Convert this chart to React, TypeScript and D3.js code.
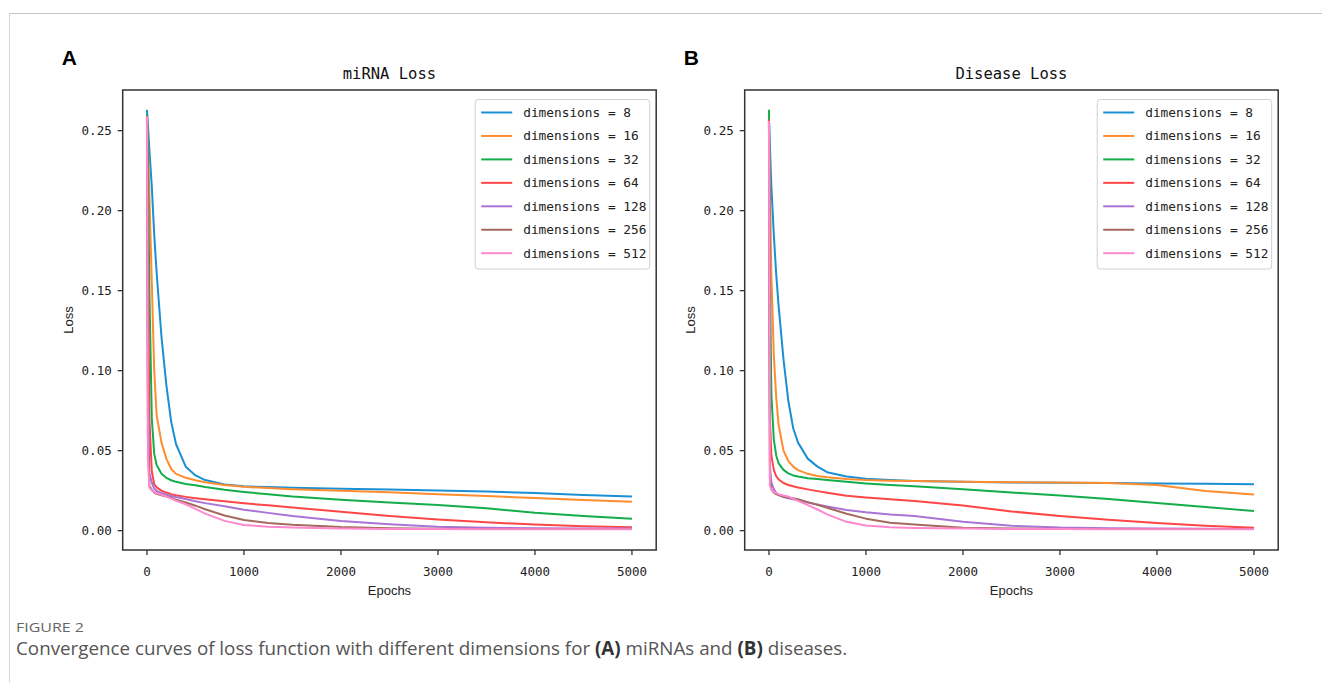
import React from "react";
import * as d3 from "d3";

const epochs = [0, 10, 25, 50, 75, 100, 150, 200, 250, 300, 400, 500, 600, 800, 1000, 1250, 1500, 2000, 2500, 3000, 3500, 4000, 4500, 5000];
const dimensions = [8, 16, 32, 64, 128, 256, 512];
const colors = ["#1b8fd4", "#ff8d2e", "#14ad4b", "#ff4646", "#a974d6", "#a56a5e", "#ff88cf"];
const xTicks = [0, 1000, 2000, 3000, 4000, 5000];
const yTicks = [0, 0.05, 0.1, 0.15, 0.2, 0.25];

// Panel A: miRNA loss
const mirnaD8 = [0.263, 0.254, 0.238, 0.215, 0.185, 0.161, 0.121, 0.091, 0.068, 0.054, 0.040, 0.0345, 0.0316, 0.0288, 0.0277, 0.0272, 0.0268, 0.0262, 0.0257, 0.0251, 0.0244, 0.0235, 0.0223, 0.0213];
const mirnaD16 = [0.259, 0.24, 0.21, 0.155, 0.1, 0.072, 0.055, 0.045, 0.0385, 0.0355, 0.033, 0.0315, 0.0302, 0.0285, 0.0274, 0.0266, 0.0259, 0.025, 0.024, 0.0228, 0.0216, 0.0204, 0.0192, 0.0181];
const mirnaD32 = [0.26, 0.235, 0.15, 0.07, 0.048, 0.041, 0.0355, 0.033, 0.0315, 0.0305, 0.0292, 0.0283, 0.0273, 0.0256, 0.0242, 0.0227, 0.0213, 0.0193, 0.0176, 0.016, 0.014, 0.0112, 0.0092, 0.0075];
const mirnaD64 = [0.258, 0.18, 0.07, 0.037, 0.029, 0.027, 0.025, 0.0238, 0.0228, 0.0221, 0.0211, 0.0203, 0.0196, 0.0184, 0.0171, 0.0158, 0.0145, 0.0118, 0.0091, 0.0069, 0.0052, 0.0038, 0.0028, 0.0021];
const mirnaD128 = [0.258, 0.09, 0.036, 0.03, 0.0263, 0.0248, 0.0235, 0.0224, 0.0217, 0.021, 0.0198, 0.0184, 0.0172, 0.0152, 0.0131, 0.0111, 0.0091, 0.006, 0.004, 0.0025, 0.0018, 0.0015, 0.0014, 0.0013];
const mirnaD256 = [0.259, 0.06, 0.028, 0.0255, 0.0238, 0.023, 0.0221, 0.0213, 0.0205, 0.0194, 0.0176, 0.0156, 0.0134, 0.0095, 0.0066, 0.0048, 0.0037, 0.0022, 0.0015, 0.0012, 0.0011, 0.001, 0.001, 0.001];
const mirnaD512 = [0.259, 0.045, 0.027, 0.0252, 0.0242, 0.0235, 0.0224, 0.0214, 0.02, 0.0187, 0.0165, 0.0136, 0.0106, 0.0061, 0.0035, 0.0025, 0.002, 0.0014, 0.0011, 0.001, 0.0009, 0.0009, 0.0008, 0.0008];

// Panel B: disease loss
const diseaseD8 = [0.258, 0.24, 0.215, 0.185, 0.16, 0.14, 0.107, 0.081, 0.064, 0.055, 0.045, 0.04, 0.0365, 0.0338, 0.0325, 0.0317, 0.0311, 0.0305, 0.0301, 0.0299, 0.0297, 0.0295, 0.0293, 0.029];
const diseaseD16 = [0.258, 0.215, 0.16, 0.11, 0.083, 0.066, 0.05, 0.0435, 0.04, 0.0378, 0.0355, 0.0342, 0.0333, 0.0322, 0.0316, 0.0312, 0.031, 0.0305, 0.0303, 0.0301, 0.0298, 0.0285, 0.0248, 0.0226];
const diseaseD32 = [0.263, 0.16, 0.085, 0.057, 0.047, 0.042, 0.038, 0.0358, 0.0345, 0.0338, 0.0328, 0.0322, 0.0317, 0.0305, 0.0295, 0.0285, 0.0277, 0.0258, 0.0238, 0.022, 0.0198, 0.0172, 0.0148, 0.0122];
const diseaseD64 = [0.257, 0.07, 0.047, 0.038, 0.034, 0.032, 0.0298, 0.0285, 0.0277, 0.027, 0.0258, 0.0247, 0.0237, 0.0218, 0.0207, 0.0196, 0.0186, 0.0157, 0.012, 0.0091, 0.0068, 0.0048, 0.003, 0.0018];
const diseaseD128 = [0.256, 0.04, 0.03, 0.026, 0.0235, 0.0222, 0.021, 0.0202, 0.0196, 0.0189, 0.0176, 0.0163, 0.0151, 0.0129, 0.0115, 0.0101, 0.0091, 0.0056, 0.003, 0.0019, 0.0015, 0.0013, 0.0012, 0.0011];
const diseaseD256 = [0.256, 0.032, 0.0258, 0.0238, 0.0228, 0.0222, 0.0213, 0.0207, 0.0203, 0.0196, 0.0178, 0.0161, 0.0143, 0.0106, 0.0075, 0.005, 0.0038, 0.0018, 0.0013, 0.0011, 0.001, 0.001, 0.001, 0.001];
const diseaseD512 = [0.256, 0.028, 0.0258, 0.0243, 0.0235, 0.0228, 0.022, 0.0213, 0.02, 0.0186, 0.016, 0.0132, 0.0102, 0.0055, 0.0032, 0.0021, 0.0017, 0.0013, 0.0011, 0.001, 0.0009, 0.0009, 0.0008, 0.0008];

const mirnaSeries = [mirnaD8, mirnaD16, mirnaD32, mirnaD64, mirnaD128, mirnaD256, mirnaD512];
const diseaseSeries = [diseaseD8, diseaseD16, diseaseD32, diseaseD64, diseaseD128, diseaseD256, diseaseD512];

const MONO = "'DejaVu Sans Mono', monospace";
const SANS = "'Liberation Sans', Arial, sans-serif";

type PanelProps = { left: number; letter: string; title: string; series: number[][] };

function Panel({ left, letter, title, series }: PanelProps) {
  const width = 533.5;
  const top = 90;
  const bottom = 550;
  const right = left + width;
  const x = d3.scaleLinear().domain([-250, 5250]).range([left, right]);
  const y = d3.scaleLinear().domain([-0.0121, 0.2754]).range([bottom, top]);
  const line = d3
    .line<number>()
    .x((_, i) => x(epochs[i]))
    .y((d) => y(d));
  const cx = (left + right) / 2;
  const legX = right - 181;
  const legY = 99.5;
  const rowH = 23.45;
  return (
    <g>
      <text x={left - 61} y={65} fontFamily={SANS} fontWeight="bold" fontSize={21} fill="#000">
        {letter}
      </text>
      <text x={cx} y={79} textAnchor="middle" fontFamily={MONO} fontSize={15.5} fill="#111">
        {title}
      </text>
      {series.map((s, i) => (
        <path key={i} d={line(s) || ""} fill="none" stroke={colors[i]} strokeWidth={2} strokeLinejoin="round" />
      ))}
      <rect x={left} y={top} width={width} height={bottom - top} fill="none" stroke="#333" strokeWidth={1.5} />
      {xTicks.map((t) => (
        <g key={"x" + t}>
          <line x1={x(t)} x2={x(t)} y1={bottom} y2={bottom + 5} stroke="#333" strokeWidth={1.3} />
          <text x={x(t)} y={bottom + 26} textAnchor="middle" fontFamily={MONO} fontSize={12.5} fill="#222">
            {String(t)}
          </text>
        </g>
      ))}
      {yTicks.map((t) => (
        <g key={"y" + t}>
          <line x1={left - 5} x2={left} y1={y(t)} y2={y(t)} stroke="#333" strokeWidth={1.3} />
          <text x={left - 11} y={y(t) + 4.5} textAnchor="end" fontFamily={MONO} fontSize={12.5} fill="#222">
            {t.toFixed(2)}
          </text>
        </g>
      ))}
      <text x={cx} y={595} textAnchor="middle" fontFamily={SANS} fontSize={13} fill="#222">
        Epochs
      </text>
      <text
        transform={`translate(${left - 50},${(top + bottom) / 2}) rotate(-90)`}
        textAnchor="middle"
        fontFamily={SANS}
        fontSize={13}
        fill="#222"
      >
        Loss
      </text>
      <rect x={legX} y={legY} width={174.5} height={169.5} rx={3} fill="#fff" fillOpacity={0.85} stroke="#d0d0d0" strokeWidth={1} />
      {dimensions.map((dim, i) => {
        const ry = legY + 13 + i * rowH;
        return (
          <g key={"l" + dim}>
            <line x1={legX + 6} x2={legX + 37} y1={ry} y2={ry} stroke={colors[i]} strokeWidth={2} />
            <text x={legX + 48} y={ry + 4.5} fontFamily={MONO} fontSize={12.8} fill="#222">
              {`dimensions = ${dim}`}
            </text>
          </g>
        );
      })}
    </g>
  );
}

export default function App() {
  return (
    <svg
      width={1322}
      height={682}
      viewBox="0 0 1322 682"
      style={{ position: "absolute", left: 0, top: 0, background: "#fff" }}
    >
      <rect x={0} y={0} width={1322} height={682} fill="#fff" />
      <line x1={9} x2={1322} y1={13.5} y2={13.5} stroke="#c4c4c4" strokeWidth={1} />
      <line x1={9.5} x2={9.5} y1={13} y2={682} stroke="#d4d4d4" strokeWidth={1} />
      <Panel left={122.7} letter="A" title="miRNA Loss" series={mirnaSeries} />
      <Panel left={744.7} letter="B" title="Disease Loss" series={diseaseSeries} />
      <text x={16} y={632} fontFamily="'Open Sans', sans-serif" fontSize={13} textLength={68} lengthAdjust="spacingAndGlyphs" fill="#666">
        FIGURE 2
      </text>
      <text x={16} y={655} fontFamily="'Open Sans', sans-serif" fontSize={18.8} fill="#555">
        Convergence curves of loss function with different dimensions for{" "}
        <tspan fontWeight="bold" fill="#333">(A)</tspan> miRNAs and{" "}
        <tspan fontWeight="bold" fill="#333">(B)</tspan> diseases.
      </text>
    </svg>
  );
}
